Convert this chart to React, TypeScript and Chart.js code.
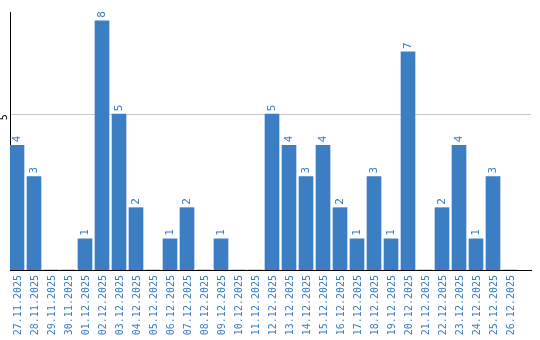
import React, { useEffect, useRef } from "react";
import { Chart, registerables } from "chart.js";

Chart.register(...registerables);

const dates = [
  "27.11.2025", "28.11.2025", "29.11.2025", "30.11.2025", "01.12.2025",
  "02.12.2025", "03.12.2025", "04.12.2025", "05.12.2025", "06.12.2025",
  "07.12.2025", "08.12.2025", "09.12.2025", "10.12.2025", "11.12.2025",
  "12.12.2025", "13.12.2025", "14.12.2025", "15.12.2025", "16.12.2025",
  "17.12.2025", "18.12.2025", "19.12.2025", "20.12.2025", "21.12.2025",
  "22.12.2025", "23.12.2025", "24.12.2025", "25.12.2025", "26.12.2025",
];
const counts = [4, 3, 0, 0, 1, 8, 5, 2, 0, 1, 2, 0, 1, 0, 0, 5, 4, 3, 4, 2, 1, 3, 1, 7, 0, 2, 4, 1, 3, 0];
const yTickValues = [5];
const yMax = 8.28;

const BLUE = "#3b7ec3";
const TEXT_BLUE = "#3a7bc0";
const MONO = "'DejaVu Sans Mono', 'Liberation Mono', monospace";

const valueLabels = {
  id: "valueLabels",
  afterDatasetsDraw(chart: any) {
    const ctx = chart.ctx;
    const meta = chart.getDatasetMeta(0);
    ctx.save();
    ctx.fillStyle = TEXT_BLUE;
    ctx.font = "11px " + MONO;
    ctx.textAlign = "left";
    ctx.textBaseline = "middle";
    meta.data.forEach((bar: any, i: number) => {
      const v = counts[i];
      if (!v) return;
      ctx.save();
      ctx.translate(bar.x + 0.5, bar.y - 3);
      ctx.rotate(-Math.PI / 2);
      ctx.fillText(String(v), 0, 0);
      ctx.restore();
    });
    ctx.restore();
  },
};

export default function App() {
  const ref = useRef<HTMLCanvasElement | null>(null);
  useEffect(() => {
    document.body.style.margin = "0";
    if (!ref.current) return;
    const xMin = -7 / 17;
    const xMax = xMin + 521 / 17;
    const chart = new Chart(ref.current, {
      type: "bar",
      data: {
        datasets: [
          {
            data: counts.map((v, i) => ({ x: i, y: v })),
            backgroundColor: BLUE,
            borderWidth: 0,
            barThickness: 14,
          },
        ],
      },
      plugins: [valueLabels],
      options: {
        responsive: false,
        animation: false,
        layout: { padding: { top: 10, right: 9, left: 0, bottom: 0 } },
        plugins: { legend: { display: false }, tooltip: { enabled: false } },
        scales: {
          x: {
            type: "linear",
            offset: false,
            min: xMin,
            max: xMax,
            afterBuildTicks: (scale: any) => {
              scale.ticks = dates.map((_, i) => ({ value: i }));
            },
            afterFit: (scale: any) => {
              scale.height = 70;
            },
            grid: { color: "rgba(0,0,0,0)", drawTicks: false, offset: false },
            border: { display: true, color: "#000", width: 1 },
            ticks: {
              autoSkip: false,
              minRotation: 90,
              maxRotation: 90,
              padding: 5,
              labelOffset: 1.5,
              color: TEXT_BLUE,
              font: { family: MONO, size: 10 },
              callback: (value: any) => dates[Math.round(Number(value))] ?? "",
            },
          },
          y: {
            min: 0,
            max: yMax,
            afterBuildTicks: (scale: any) => {
              scale.ticks = yTickValues.map((v) => ({ value: v }));
            },
            afterFit: (scale: any) => {
              scale.width = 10;
            },
            grid: { color: "#c8c8c8", drawTicks: false, lineWidth: 1 },
            border: { display: true, color: "#000", width: 1 },
            ticks: {
              minRotation: 90,
              maxRotation: 90,
              padding: 6,
              color: "#000",
              font: { family: MONO, size: 10 },
              callback: (value: any) => String(value),
            },
          },
        },
      },
    });
    return () => chart.destroy();
  }, []);
  return (
    <div style={{ width: 540, height: 340 }}>
      <canvas ref={ref} width={540} height={340} style={{ display: "block" }} />
    </div>
  );
}
